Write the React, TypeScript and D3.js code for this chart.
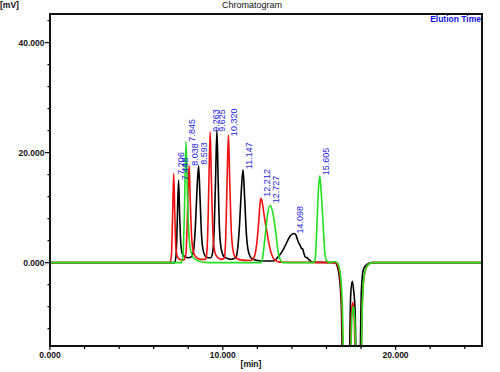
import React from "react";
import * as d3 from "d3";

// Chromatogram: three overlaid runs, values in [min, mV]
const redTrace: [number, number][] = [
  [0, 0], [6.95, 0], [7.03, 1.5], [7.09, 8], [7.16, 16.2], [7.22, 9], [7.28, 3], [7.36, 1.2], [7.5, 0.6], [7.75, 0.5],
  [7.86, 1.5], [7.93, 6], [7.99, 13], [8.05, 17.7], [8.12, 11], [8.2, 4.5], [8.3, 2], [8.45, 1], [8.7, 0.6], [9.0, 0.6],
  [9.08, 2], [9.15, 8], [9.21, 17], [9.27, 23.8], [9.34, 15], [9.42, 6], [9.52, 2.2], [9.65, 1.1], [9.9, 0.6], [10.08, 0.8],
  [10.15, 3], [10.22, 11], [10.28, 19], [10.33, 23.2], [10.4, 15], [10.48, 6.5], [10.58, 2.5], [10.7, 1.1], [11.0, 0.5], [11.6, 0.4],
  [11.78, 0.8], [11.9, 2], [12.0, 4.5], [12.08, 7.5], [12.14, 10.3], [12.21, 11.7], [12.3, 10.6], [12.42, 8], [12.56, 5.5],
  [12.7, 3], [12.85, 1.3], [13.0, 0.5], [13.3, 0.1],
  [16.5, 0], [16.65, -0.5], [16.78, -2.5], [16.9, -9], [17.0, -25], [17.32, -25], [17.44, -9.5], [17.52, -7.2], [17.6, -9.5],
  [17.72, -25], [17.96, -25], [18.07, -8], [18.18, -2.5], [18.35, -0.6], [18.6, 0], [25, 0],
];

const blackTrace: [number, number][] = [
  [0, 0], [7.22, 0], [7.3, 1.5], [7.36, 7], [7.44, 15], [7.5, 9], [7.57, 3.5], [7.66, 1.6], [7.8, 1.1], [8.0, 0.9], [8.2, 1.1],
  [8.32, 2.5], [8.42, 7], [8.51, 13.5], [8.6, 17.6], [8.68, 12], [8.77, 5], [8.88, 2], [9.05, 1], [9.3, 0.9],
  [9.42, 2], [9.5, 6], [9.58, 15], [9.66, 24.1], [9.73, 15], [9.81, 6], [9.92, 2.3], [10.1, 1], [10.5, 0.6], [10.75, 0.9],
  [10.86, 2.5], [10.97, 7], [11.07, 13], [11.17, 16.9], [11.26, 12], [11.37, 5], [11.5, 1.8], [11.7, 0.7], [12.2, 0.3], [12.9, 0.3],
  [13.04, 0.5], [13.25, 1.2], [13.43, 2], [13.6, 3], [13.72, 3.8], [13.91, 4.9], [14.1, 5.3], [14.22, 5.1], [14.3, 4.4],
  [14.39, 3.6], [14.47, 3.2], [14.55, 2.6], [14.62, 2.5], [14.7, 1.6], [14.78, 1.0], [14.88, 0.9], [14.97, 0.6], [15.17, 0.1],
  [16.5, 0], [16.62, -0.6], [16.74, -2.5], [16.86, -8], [16.96, -25], [17.28, -25], [17.4, -6], [17.49, -3.4], [17.57, -5],
  [17.66, -9], [17.76, -25], [17.9, -25], [18.02, -5], [18.14, -1.2], [18.35, -0.3], [18.6, 0], [25, 0],
];

const greenTrace: [number, number][] = [
  [0, 0], [7.62, 0], [7.7, 1.5], [7.77, 8], [7.87, 22], [7.95, 13], [8.03, 5.5], [8.14, 2.2], [8.3, 0.9], [8.6, 0.3], [9.2, 0],
  [12.2, 0], [12.32, 1.2], [12.46, 5.2], [12.6, 9], [12.75, 10.4], [12.9, 9], [13.08, 5.2], [13.2, 2], [13.33, 0.5], [13.5, 0],
  [15.25, 0], [15.35, 0.8], [15.46, 7.9], [15.53, 13], [15.61, 15.8], [15.69, 13], [15.79, 7.9], [15.9, 2], [16.0, 0.4], [16.2, 0],
  [16.45, 0.2], [16.62, 0], [16.78, -1.5], [16.92, -8], [17.04, -25], [17.34, -25], [17.47, -10], [17.55, -8], [17.63, -10],
  [17.78, -25], [17.96, -25], [18.08, -7], [18.2, -2], [18.4, -0.4], [18.7, 0], [25, 0],
];

// peak annotations: retention time text and the apex height it sits on
const peakLabels = ["7.206", "7.448", "7.845", "8.038", "8.593", "9.263", "9.625", "10.320", "11.147", "12.212", "12.727", "14.098", "15.605"];
const peakHeights = [16.0, 15.0, 22.0, 17.6, 17.8, 23.8, 23.8, 23.0, 17.0, 12.0, 10.8, 5.3, 15.9];

const xMajor = [0, 10, 20];
const xMinor = [2, 4, 6, 8, 12, 14, 16, 18, 22, 24];
const yMajor = [0, 20, 40];
const yMinor = [-12, -8, -4, 4, 8, 12, 16, 24, 28, 32, 36, 44];

const W = 500;
const H = 372;
const LEFT = 50;
const RIGHT = 482;
const TOP = 14;
const BOTTOM = 346;
const FONT = "'Liberation Sans', Arial, sans-serif";
const LABEL_BLUE = "#2424d8";

export default function App() {
  const x = d3.scaleLinear().domain([0, 25]).range([LEFT, RIGHT]);
  const y = d3.scaleLinear().domain([-15.15, 45.2]).range([BOTTOM, TOP]);
  const fmt = d3.format(".3f");

  const line = d3
    .line<[number, number]>()
    .x((d) => x(d[0]))
    .y((d) => y(d[1]))
    .curve(d3.curveMonotoneX);

  const traces = [
    { data: blackTrace, color: "#000000" },
    { data: redTrace, color: "#f01010" },
    { data: greenTrace, color: "#20e020" },
  ];

  return (
    <div style={{ position: "absolute", left: 0, top: 0, background: "#fff" }}>
      <svg width={W} height={H} viewBox={`0 0 ${W} ${H}`} style={{ display: "block" }} fontFamily={FONT}>
        <rect width={W} height={H} fill="#fff" />
        <defs>
          <clipPath id="plot-clip">
            <rect x={LEFT} y={TOP} width={RIGHT - LEFT} height={BOTTOM - TOP} />
          </clipPath>
        </defs>

        <text x={0} y={8} fontSize={8.5} fontWeight="bold" fill="#111">[mV]</text>
        <text x={252} y={8} fontSize={9} textAnchor="middle" fill="#111">Chromatogram</text>

        <g clipPath="url(#plot-clip)">
          {traces.map((t, i) => (
            <path key={i} d={line(t.data) ?? ""} fill="none" stroke={t.color} strokeWidth={1.6} strokeLinejoin="round" />
          ))}
        </g>

        {peakLabels.map((lab, i) => {
          const px = x(parseFloat(lab)) + 6;
          const py = y(peakHeights[i]);
          return (
            <text
              key={lab}
              transform={`translate(${px},${py}) rotate(-90)`}
              fontSize={9}
              fill={LABEL_BLUE}
              dominantBaseline="central"
            >
              {lab}
            </text>
          );
        })}

        <text x={481} y={22} fontSize={8.5} fontWeight="bold" textAnchor="end" fill="#1010e0">Elution Time</text>

        <rect x={LEFT} y={TOP} width={RIGHT - LEFT} height={BOTTOM - TOP} fill="none" stroke="#111" strokeWidth={2} />

        {yMajor.map((v) => (
          <g key={`ym${v}`}>
            <line x1={LEFT - 5} x2={LEFT} y1={y(v)} y2={y(v)} stroke="#111" strokeWidth={1.3} />
            <text x={LEFT - 5.5} y={y(v)} fontSize={8.5} fontWeight="bold" textAnchor="end" dominantBaseline="central" fill="#111">
              {fmt(v)}
            </text>
          </g>
        ))}
        {yMinor.map((v) => (
          <line key={`yn${v}`} x1={LEFT - 2.5} x2={LEFT} y1={y(v)} y2={y(v)} stroke="#111" strokeWidth={1.3} />
        ))}

        {xMajor.map((v) => (
          <g key={`xm${v}`}>
            <line x1={x(v)} x2={x(v)} y1={BOTTOM} y2={BOTTOM + 4} stroke="#111" strokeWidth={1.3} />
            <text x={x(v)} y={BOTTOM + 12} fontSize={8.5} fontWeight="bold" textAnchor="middle" fill="#111">
              {fmt(v)}
            </text>
          </g>
        ))}
        {xMinor.map((v) => (
          <line key={`xn${v}`} x1={x(v)} x2={x(v)} y1={BOTTOM} y2={BOTTOM + 3} stroke="#111" strokeWidth={1.3} />
        ))}

        <text x={251} y={367} fontSize={8.5} fontWeight="bold" textAnchor="middle" fill="#111">[min]</text>
      </svg>
    </div>
  );
}
